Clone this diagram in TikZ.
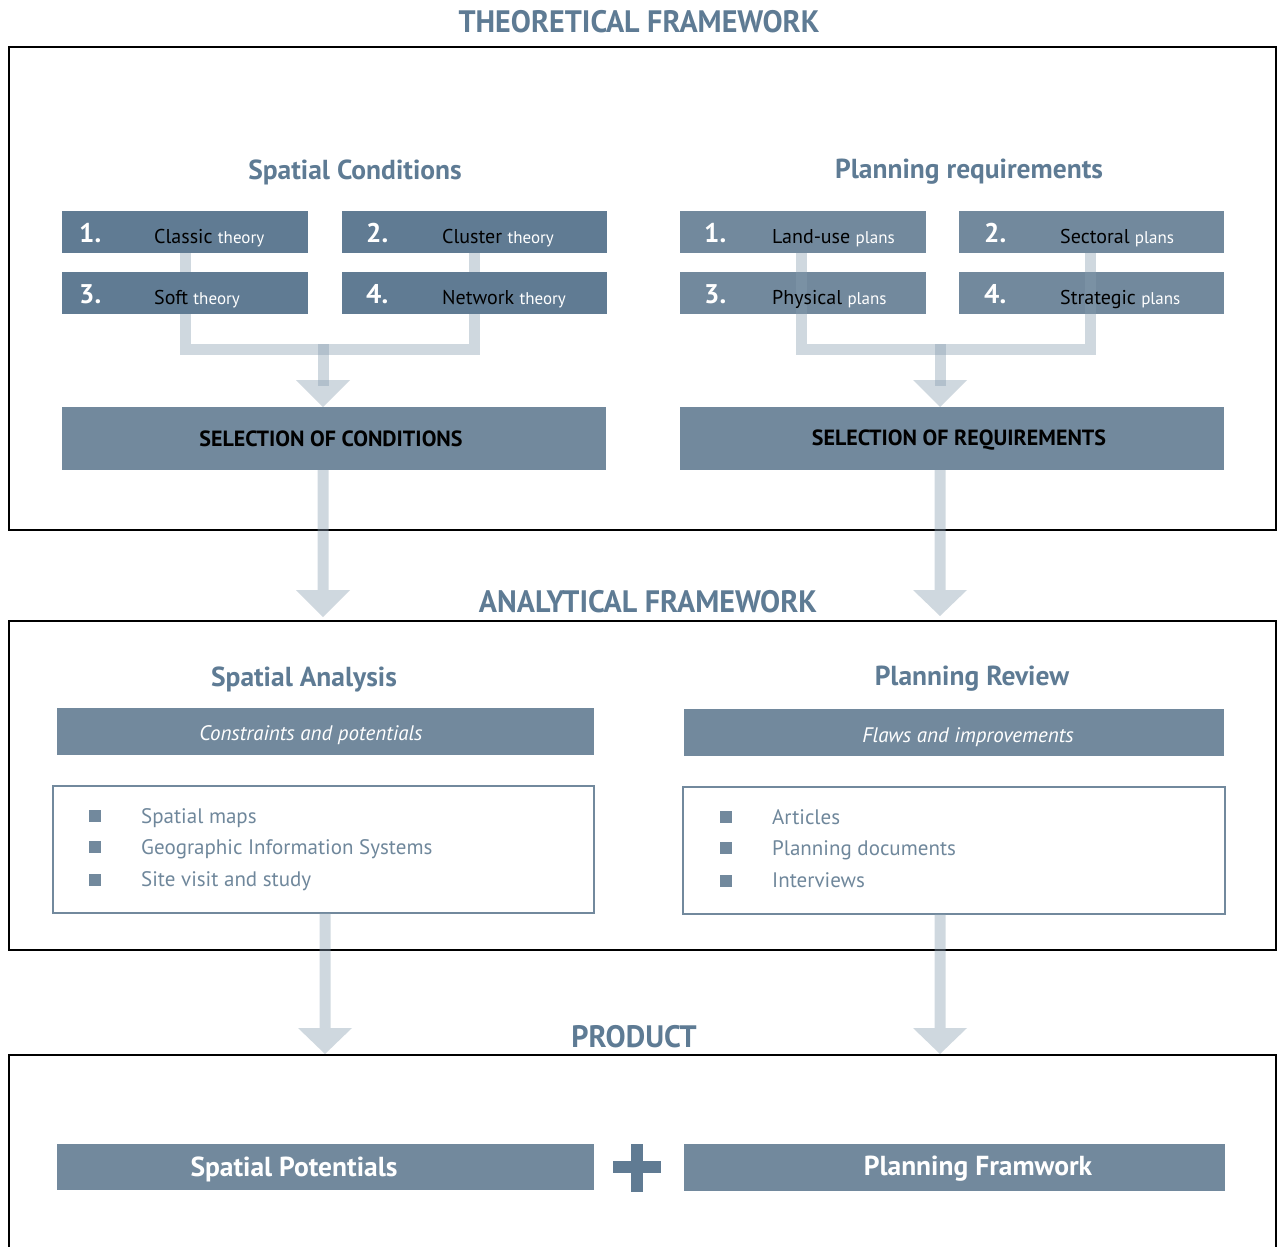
\documentclass[tikz,border=0pt]{standalone}
\usepackage{fontspec}
\setmainfont{PT Sans}
\newfontfamily\condb[FakeStretch=0.97]{PT Sans Bold}
\usetikzlibrary{calc}
\definecolor{hdr}{HTML}{5E7B94}
\definecolor{boxA}{HTML}{607B93}
\definecolor{boxB}{HTML}{72899D}
\definecolor{arr}{HTML}{879DAF}
\definecolor{listtxt}{HTML}{6F879B}
\tikzset{
  frame/.style={draw=black, line width=2.4pt},
  boxdark/.style={fill=boxA, inner sep=0pt, outer sep=0pt},
  boxlight/.style={fill=boxB, inner sep=0pt, outer sep=0pt},
  listbox/.style={draw=boxB, line width=2pt, inner sep=0pt, outer sep=0pt},
  secttl/.style={text=hdr, font=\condb\fontsize{31}{33}\selectfont},
  subttl/.style={text=hdr, font=\bfseries\fontsize{27.5}{30}\selectfont},
  numtxt/.style={text=white, font=\bfseries\fontsize{27}{30}\selectfont, anchor=base west, inner sep=0pt},
  itemtxt/.style={anchor=base west, inner sep=0pt, font=\fontsize{20}{22}\selectfont},
  seltxt/.style={text=black, font=\bfseries\fontsize{22}{24}\selectfont},
  ittxt/.style={text=white, font=\itshape\fontsize{21}{24}\selectfont},
  listtxt/.style={text=listtxt, anchor=base west, inner sep=0pt, font=\fontsize{21}{23}\selectfont},
  bullet/.style={fill=boxB, minimum size=12pt, inner sep=0pt},
  prodtxt/.style={text=white, font=\bfseries\fontsize{27.5}{30}\selectfont},
  conn/.style={line width=11pt, draw=arr, draw opacity=0.4},
  head/.style={fill=arr, fill opacity=0.4},
}
\newcommand{\twopart}[2]{#1\ {\fontsize{17}{20}\selectfont\color{white}#2}}
\begin{document}
\begin{tikzpicture}[x=1pt,y=-1pt]
\useasboundingbox (0,0) rectangle (1277,1247);
\clip (0,0) rectangle (1277,1247);

% ---------- Theoretical framework ----------
\node[secttl] (t1) at (639,22) {THEORETICAL FRAMEWORK};
\draw[frame] (9,47) rectangle (1276,530);

\node[subttl] (sc) at (355,172) {Spatial Conditions};
\node[subttl] (pr) at (969,172) {Planning requirements};

% left bracket (behind boxes)
\draw[conn] (185,232) |- (330,349.5) -| (474.5,232);
\node[boxdark, minimum width=246pt, minimum height=42pt] (c1) at (185,232) {};
\node[boxdark, minimum width=265pt, minimum height=42pt] (c2) at (474.5,232) {};
\node[boxdark, minimum width=246pt, minimum height=42pt] (c3) at (185,293) {};
\node[boxdark, minimum width=265pt, minimum height=42pt] (c4) at (474.5,293) {};
\node[numtxt] at ([xshift=17pt,yshift=-10pt]c1.west) {1.};
\node[itemtxt] at ([xshift=92pt,yshift=-11pt]c1.west) {\twopart{Classic}{theory}};
\node[numtxt] at ([xshift=24pt,yshift=-10pt]c2.west) {2.};
\node[itemtxt] at ([xshift=100pt,yshift=-11pt]c2.west) {\twopart{Cluster}{theory}};
\node[numtxt] at ([xshift=17pt,yshift=-10pt]c3.west) {3.};
\node[itemtxt] at ([xshift=92pt,yshift=-11pt]c3.west) {\twopart{Soft}{theory}};
\node[numtxt] at ([xshift=24pt,yshift=-10pt]c4.west) {4.};
\node[itemtxt] at ([xshift=100pt,yshift=-11pt]c4.west) {\twopart{Network}{theory}};

\node[boxlight, minimum width=544pt, minimum height=63pt] (selc) at (334,438.5) {};
\node[seltxt] at (331,439) {SELECTION OF CONDITIONS};
\draw[conn] (323,344) -- (323,386);
\path[head] (296,380) -- (350,380) -- (selc.north -| 323,0) -- cycle;

% right group
\node[boxlight, minimum width=246pt, minimum height=42pt] (r1) at (803,232) {};
\node[boxlight, minimum width=265pt, minimum height=42pt] (r2) at (1091.5,232) {};
\node[boxlight, minimum width=246pt, minimum height=42pt] (r3) at (803,293) {};
\node[boxlight, minimum width=265pt, minimum height=42pt] (r4) at (1091.5,293) {};
\draw[conn] (r1.south -| 801,0) |- (940,349.5) -| (r2.south -| 1090,0);
\node[numtxt] at ([xshift=24pt,yshift=-10pt]r1.west) {1.};
\node[itemtxt] at ([xshift=92pt,yshift=-11pt]r1.west) {\twopart{Land-use}{plans}};
\node[numtxt] at ([xshift=25pt,yshift=-10pt]r2.west) {2.};
\node[itemtxt] at ([xshift=101pt,yshift=-11pt]r2.west) {\twopart{Sectoral}{plans}};
\node[numtxt] at ([xshift=24pt,yshift=-10pt]r3.west) {3.};
\node[itemtxt] at ([xshift=92pt,yshift=-11pt]r3.west) {\twopart{Physical}{plans}};
\node[numtxt] at ([xshift=25pt,yshift=-10pt]r4.west) {4.};
\node[itemtxt] at ([xshift=101pt,yshift=-11pt]r4.west) {\twopart{Strategic}{plans}};

\node[boxlight, minimum width=544pt, minimum height=63pt] (selr) at (952,438.5) {};
\node[seltxt] at (959,440) {SELECTION OF REQUIREMENTS};
\draw[conn] (940,344) -- (940,386);
\path[head] (913,380) -- (967,380) -- (selr.north -| 940,0) -- cycle;

% ---------- Analytical framework ----------
\node[secttl] (t2) at (648,602) {ANALYTICAL FRAMEWORK};
\draw[frame] (9,621) rectangle (1276,950);

\path[head] (selc.south -| 317.5,0) -- (317.5,590) -- (296,590) -- (323,617) -- (350,590) -- (328.5,590) -- (selc.south -| 328.5,0) -- cycle;
\path[head] (selr.south -| 934.5,0) -- (934.5,590) -- (913,590) -- (940,616) -- (967,590) -- (945.5,590) -- (selr.south -| 945.5,0) -- cycle;

\node[subttl] (sa) at (304,679) {Spatial Analysis};
\node[subttl] (prv) at (972,679) {Planning Review};

\node[boxlight, minimum width=537pt, minimum height=47pt] (cp) at (325.5,731.5) {};
\node[ittxt] at (311,735) {Constraints and potentials};
\node[boxlight, minimum width=540pt, minimum height=47pt] (fi) at (954,732.5) {};
\node[ittxt] at (968,737) {Flaws and improvements};

\node[listbox, minimum width=541pt, minimum height=127pt] (l1) at (323.5,849.5) {};
\node[bullet] at (95,816) {};
\node[bullet] at (95,847) {};
\node[bullet] at (95,880) {};
\node[listtxt] at (141,823) {Spatial maps};
\node[listtxt] at (141,854) {Geographic Information Systems};
\node[listtxt] at (141,886) {Site visit and study};

\node[listbox, minimum width=542pt, minimum height=127pt] (l2) at (954,850.5) {};
\node[bullet] at (726,817) {};
\node[bullet] at (726,848) {};
\node[bullet] at (726,881) {};
\node[listtxt] at (772,824) {Articles};
\node[listtxt] at (772,855) {Planning documents};
\node[listtxt] at (772,887) {Interviews};

% ---------- Product ----------
\node[secttl] (t3) at (634,1037) {PRODUCT};
\draw[frame] (9,1055) rectangle (1276,1300);

\path[head] (l1.south -| 319.5,0) -- (319.5,1028) -- (298,1028) -- (325,1054) -- (352,1028) -- (330.5,1028) -- (l1.south -| 330.5,0) -- cycle;
\path[head] (l2.south -| 934.5,0) -- (934.5,1028) -- (913,1028) -- (940,1054) -- (967,1028) -- (945.5,1028) -- (l2.south -| 945.5,0) -- cycle;

\node[boxlight, minimum width=537pt, minimum height=46pt] (sp) at (325.5,1167) {};
\node[prodtxt] at (294,1169) {Spatial Potentials};
\node[boxlight, minimum width=541pt, minimum height=47pt] (pf) at (954.5,1167.5) {};
\node[prodtxt] at (978,1169) {Planning Framwork};
\node[fill=boxA, minimum width=12pt, minimum height=48pt, inner sep=0pt] (plusv) at (637,1168) {};
\node[fill=boxA, minimum width=48pt, minimum height=12pt, inner sep=0pt] (plush) at (637,1167) {};
\end{tikzpicture}
\end{document}
